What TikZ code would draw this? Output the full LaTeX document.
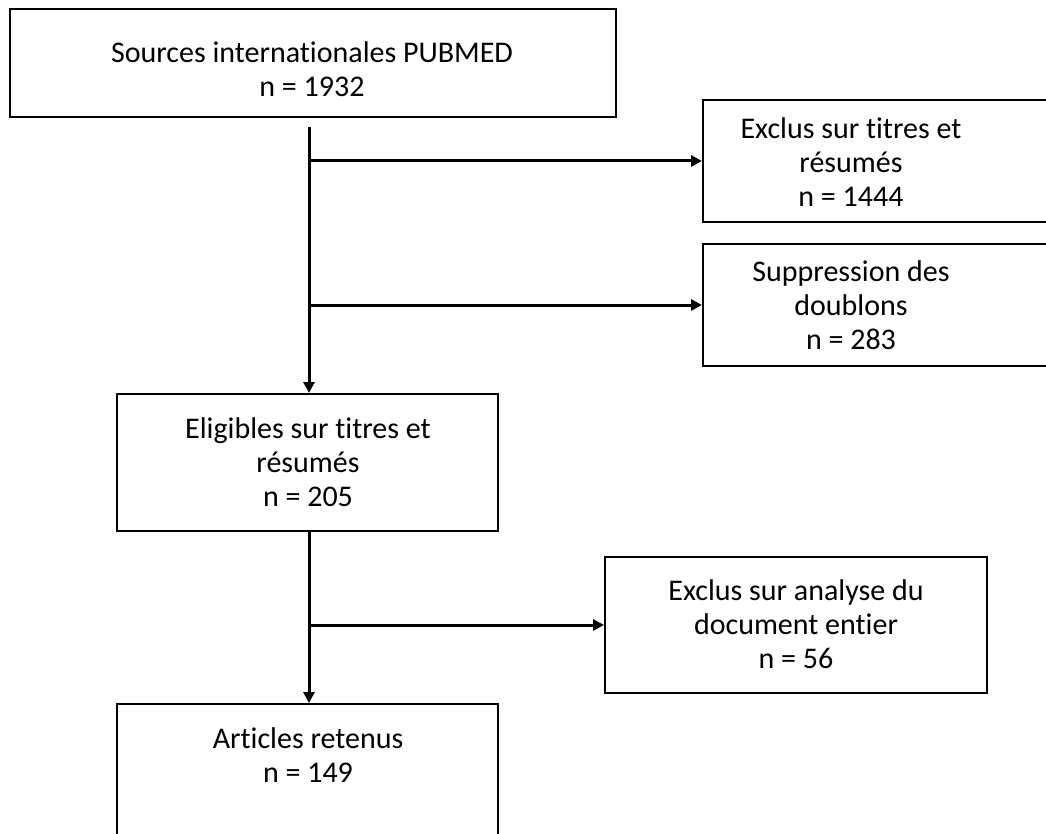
\documentclass[tikz,border=0pt]{standalone}
\usepackage{fontspec}
\setmainfont[Ligatures={NoCommon}]{Carlito}
\usetikzlibrary{arrows.meta}
\tikzset{
  box/.style={draw=black, line width=2pt, inner sep=0pt, fill=white},
  txt/.style={align=center, font=\fontsize{30}{34}\selectfont, inner sep=0pt},
  flow/.style={line width=3pt, -{Triangle[length=11pt,width=11pt]}},
}
\begin{document}
\begin{tikzpicture}[x=1pt,y=-1pt]
\useasboundingbox (0,0) rectangle (1046,834);
\clip (0,0) rectangle (1046,834);
\node[box, minimum width=606pt, minimum height=108pt] (b1) at (313,63) {};
\node[box, minimum width=360pt, minimum height=122pt] (b2) at (883,161) {};
\node[box, minimum width=360pt, minimum height=122pt] (b3) at (883,305) {};
\node[box, minimum width=381pt, minimum height=137pt] (b4) at (307.5,462.5) {};
\node[box, minimum width=382pt, minimum height=136pt] (b5) at (796,625) {};
\node[box, minimum width=381pt, minimum height=160pt] (b6) at (307.5,784) {};
\node[txt] (t1) at (312,69) {Sources internationales PUBMED\\n = 1932};
\node[txt] (t2) at (851,162) {Exclus sur titres et\\résumés\\n = 1444};
\node[txt] (t3) at (851,305) {Suppression des\\doublons\\n = 283};
\node[txt] (t4) at (308,462) {Eligibles sur titres et\\résumés\\n = 205};
\node[txt] (t5) at (796,624) {Exclus sur analyse du\\document entier\\n = 56};
\node[txt] (t6) at (308,755) {Articles retenus\\n = 149};
\coordinate (s1) at (309,127);
\coordinate (s2) at (309,531);
\draw[flow] (s1) -- (s1 |- b4.north);
\draw[flow] (s1 |- b2.west) -- (b2.west);
\draw[flow] (s1 |- b3.west) -- (b3.west);
\draw[flow] (s2) -- (s2 |- b6.north);
\draw[flow] (s2 |- b5.west) -- (b5.west);
\end{tikzpicture}
\end{document}
